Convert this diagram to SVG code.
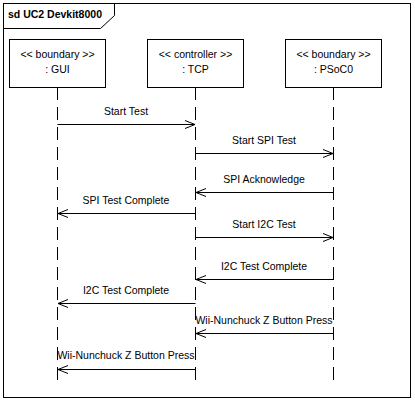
<svg xmlns="http://www.w3.org/2000/svg" width="415" height="402" viewBox="0 0 415 402">
<defs>
<style>
text{font-family:"Liberation Sans",Arial,sans-serif;font-size:10.5px;fill:#000}
.t{text-anchor:middle}
.box{fill:#fff;stroke:#000;stroke-width:1}
.life{stroke:#000;stroke-width:1;stroke-dasharray:13 7;fill:none}
.msg{stroke:#000;stroke-width:1;fill:none}
.frame{fill:none;stroke:#000;stroke-width:1}
</style>
<marker id="ah" markerWidth="12" markerHeight="10" refX="10" refY="4.5" orient="auto" markerUnits="userSpaceOnUse">
<path d="M0,0.5 L10,4.5 L0,8.5" fill="none" stroke="#000" stroke-width="1"/>
</marker>
</defs>
<rect width="415" height="402" fill="#fff"/>
<g id="frame">
<rect class="frame" x="3.5" y="3.5" width="407" height="394"/>
<path class="frame" d="M3.5,28.5 H100.5 L114.5,15.5 V3.5"/>
<text x="8" y="18" style="font-weight:bold">sd UC2 Devkit8000</text>
</g>
<g id="lifelines">
<line class="life" x1="57.5" y1="87" x2="57.5" y2="383"/>
<line class="life" x1="195.5" y1="87" x2="195.5" y2="383"/>
<line class="life" x1="333.5" y1="87" x2="333.5" y2="383"/>
</g>
<g id="gui">
<rect class="box" x="9.5" y="39.5" width="96" height="48"/>
<text class="t" x="57.5" y="58">&lt;&lt; boundary &gt;&gt;</text>
<text class="t" x="57.5" y="73">: GUI</text>
</g>
<g id="tcp">
<rect class="box" x="147.5" y="39.5" width="96" height="48"/>
<text class="t" x="195.5" y="58">&lt;&lt; controller &gt;&gt;</text>
<text class="t" x="195.5" y="73">: TCP</text>
</g>
<g id="psoc0">
<rect class="box" x="285.5" y="39.5" width="96" height="48"/>
<text class="t" x="333.5" y="58">&lt;&lt; boundary &gt;&gt;</text>
<text class="t" x="333.5" y="73">: PSoC0</text>
</g>
<g id="connectors">
<line class="msg" x1="57.5" y1="124.5" x2="195" y2="124.5" marker-end="url(#ah)"/>
<text class="t" x="126" y="115">Start Test</text>
<line class="msg" x1="195.5" y1="153.5" x2="333" y2="153.5" marker-end="url(#ah)"/>
<text class="t" x="264" y="144">Start SPI Test</text>
<line class="msg" x1="333.5" y1="192.5" x2="196" y2="192.5" marker-end="url(#ah)"/>
<text class="t" x="264" y="183">SPI Acknowledge</text>
<line class="msg" x1="195.5" y1="213.5" x2="58" y2="213.5" marker-end="url(#ah)"/>
<text class="t" x="126" y="204">SPI Test Complete</text>
<line class="msg" x1="195.5" y1="237.5" x2="333" y2="237.5" marker-end="url(#ah)"/>
<text class="t" x="264" y="228">Start I2C Test</text>
<line class="msg" x1="333.5" y1="279.5" x2="196" y2="279.5" marker-end="url(#ah)"/>
<text class="t" x="264" y="270">I2C Test Complete</text>
<line class="msg" x1="195.5" y1="303.5" x2="58" y2="303.5" marker-end="url(#ah)"/>
<text class="t" x="126" y="294">I2C Test Complete</text>
<line class="msg" x1="333.5" y1="333.5" x2="196" y2="333.5" marker-end="url(#ah)"/>
<text class="t" x="264" y="324">Wii-Nunchuck Z Button Press</text>
<line class="msg" x1="195.5" y1="369.5" x2="58" y2="369.5" marker-end="url(#ah)"/>
<text class="t" x="126" y="359">Wii-Nunchuck Z Button Press</text>
</g>
</svg>
